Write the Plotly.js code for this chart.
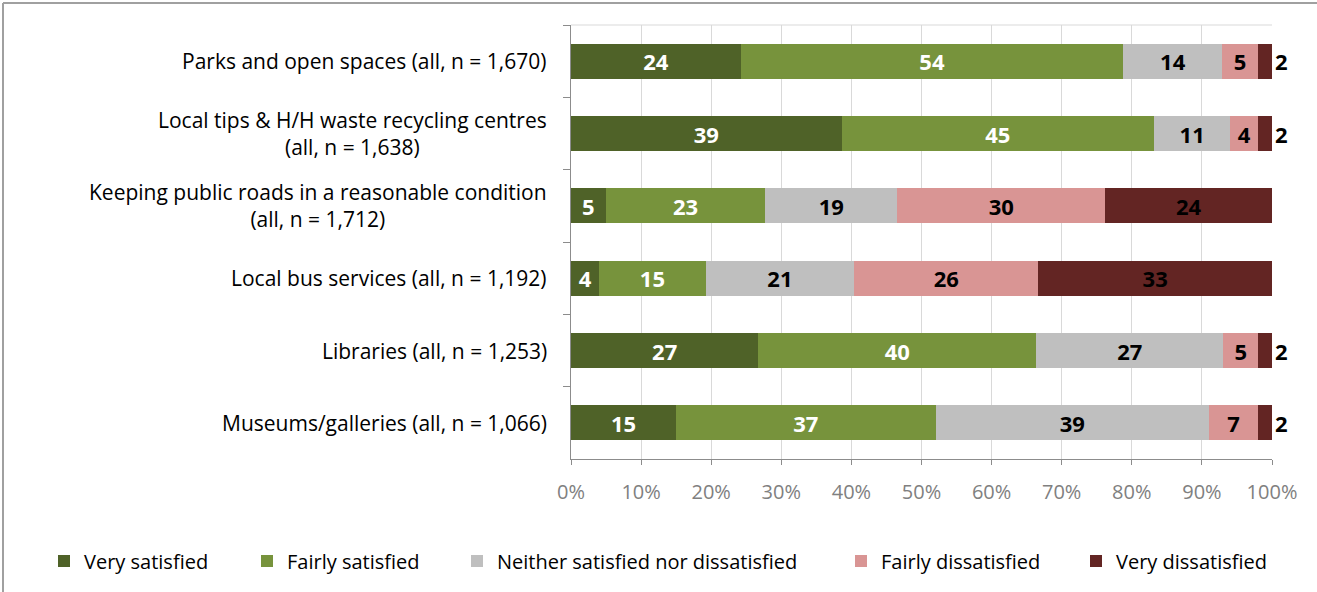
<!DOCTYPE html>
<html>
<head>
<meta charset="utf-8">
<script src="https://cdn.plot.ly/plotly-3.0.1.min.js"></script>
<style>
  html, body { margin: 0; padding: 0; background: #fff; }
  #chart { width: 1317px; height: 592px; }
</style>
</head>
<body>
<div id="chart"></div>
<script>
// Satisfaction with local services, % of respondents
const categories = [
  'Parks and open spaces (all, n = 1,670)',
  'Local tips & H/H waste recycling centres<br>(all, n = 1,638)',
  'Keeping public roads in a reasonable condition<br>(all, n = 1,712)',
  'Local bus services (all, n = 1,192)',
  'Libraries (all, n = 1,253)',
  'Museums/galleries (all, n = 1,066)'
];
const verySatisfied      = [24, 39, 5, 4, 27, 15];
const fairlySatisfied    = [54, 45, 23, 15, 40, 37];
const neither            = [14, 11, 19, 21, 27, 39];
const fairlyDissatisfied = [5, 4, 30, 26, 5, 7];
const veryDissatisfied   = [2, 2, 24, 33, 2, 2];

const seriesNames = ['Very satisfied', 'Fairly satisfied', 'Neither satisfied nor dissatisfied',
                     'Fairly dissatisfied', 'Very dissatisfied'];
const seriesValues = [verySatisfied, fairlySatisfied, neither, fairlyDissatisfied, veryDissatisfied];
const seriesColors = ['#4f6228', '#77933c', '#bfbfbf', '#d99594', '#632523'];
const labelColors  = ['#ffffff', '#ffffff', '#000000', '#000000', '#000000'];

const FONT = '"Open Sans", "Noto Sans", sans-serif';

// geometry of the plot area (px)
const M = { l: 571, r: 45, t: 25, b: 133 };
const W = 1317, H = 592;
const PW = W - M.l - M.r, PH = H - M.t - M.b;
const px2x = p => (p - M.l) / PW;
const py2y = p => (H - M.b - p) / PH;

// one legend per series so each key sits at its own spot along the bottom row
const legendLeft = [44, 247, 457, 841, 1076];
const legendKey = i => (i === 0 ? 'legend' : 'legend' + (i + 1));

const traces = seriesValues.map((vals, i) => {
  const last = i === seriesValues.length - 1;
  return {
    type: 'bar',
    orientation: 'h',
    name: seriesNames[i],
    legend: legendKey(i),
    y: categories,
    x: vals,
    marker: { color: seriesColors[i], line: { width: 0 } },
    text: vals.map(String),
    texttemplate: '%{text}',
    // the thin end segments carry their value just past the bar end
    textposition: last ? vals.map(v => (v < 5 ? 'outside' : 'inside')) : 'inside',
    textangle: 0,
    insidetextanchor: 'middle',
    constraintext: 'none',
    cliponaxis: false,
    insidetextfont: { family: FONT, size: 22, color: labelColors[i], weight: 'bold' },
    outsidetextfont: { family: FONT, size: 22, color: '#000000', weight: 'bold' },
    hoverinfo: 'name+x'
  };
});

// category labels, centred line by line
const annotations = categories.map(c => ({
  xref: 'paper', yref: 'y', x: 0, y: c,
  xanchor: 'right', yanchor: 'middle', xshift: -22,
  text: c, align: 'center', showarrow: false,
  font: { family: FONT, size: 21, color: '#000000' }
}));

const layout = {
  width: W, height: H,
  margin: M,
  paper_bgcolor: '#ffffff', plot_bgcolor: '#ffffff',
  barmode: 'stack',
  barnorm: 'percent',
  bargap: 0.515,
  showlegend: true,
  xaxis: {
    range: [0, 100], dtick: 10, ticksuffix: '%',
    showgrid: true, gridcolor: '#d9d9d9', gridwidth: 1,
    zeroline: false,
    showline: true, linecolor: '#8c8c8c', linewidth: 1,
    ticks: 'outside', ticklen: 5, tickcolor: '#8c8c8c',
    ticklabelstandoff: 10,
    tickfont: { family: FONT, size: 20, color: '#808080' }
  },
  yaxis: {
    type: 'category', autorange: 'reversed',
    showticklabels: false,
    showline: true, linecolor: '#8c8c8c', linewidth: 1,
    ticks: 'outside', tickson: 'boundaries', ticklen: 7, tickcolor: '#8c8c8c',
    showgrid: false, zeroline: false
  },
  annotations: annotations,
  shapes: [
    // light edge along the top of the plot area
    { type: 'line', xref: 'paper', yref: 'paper', x0: 0, x1: 1, y0: 1, y1: 1,
      line: { color: '#d9d9d9', width: 1 } },
    // chart frame, top and left edges
    { type: 'line', xref: 'paper', yref: 'paper', layer: 'above',
      x0: px2x(3), x1: px2x(W), y0: py2y(3), y1: py2y(3),
      line: { color: '#a0a0a0', width: 2 } },
    { type: 'line', xref: 'paper', yref: 'paper', layer: 'above',
      x0: px2x(3), x1: px2x(3), y0: py2y(3), y1: py2y(H),
      line: { color: '#a0a0a0', width: 2 } }
  ]
};

legendLeft.forEach((p, i) => {
  layout[legendKey(i)] = {
    orientation: 'h', x: px2x(p), xanchor: 'left', y: py2y(561), yanchor: 'middle',
    bgcolor: 'rgba(0,0,0,0)', borderwidth: 0,
    font: { family: FONT, size: 20, color: '#000000' },
    itemclick: false, itemdoubleclick: false
  };
});

Plotly.newPlot('chart', traces, layout, { displayModeBar: false, staticPlot: true });
</script>
</body>
</html>
